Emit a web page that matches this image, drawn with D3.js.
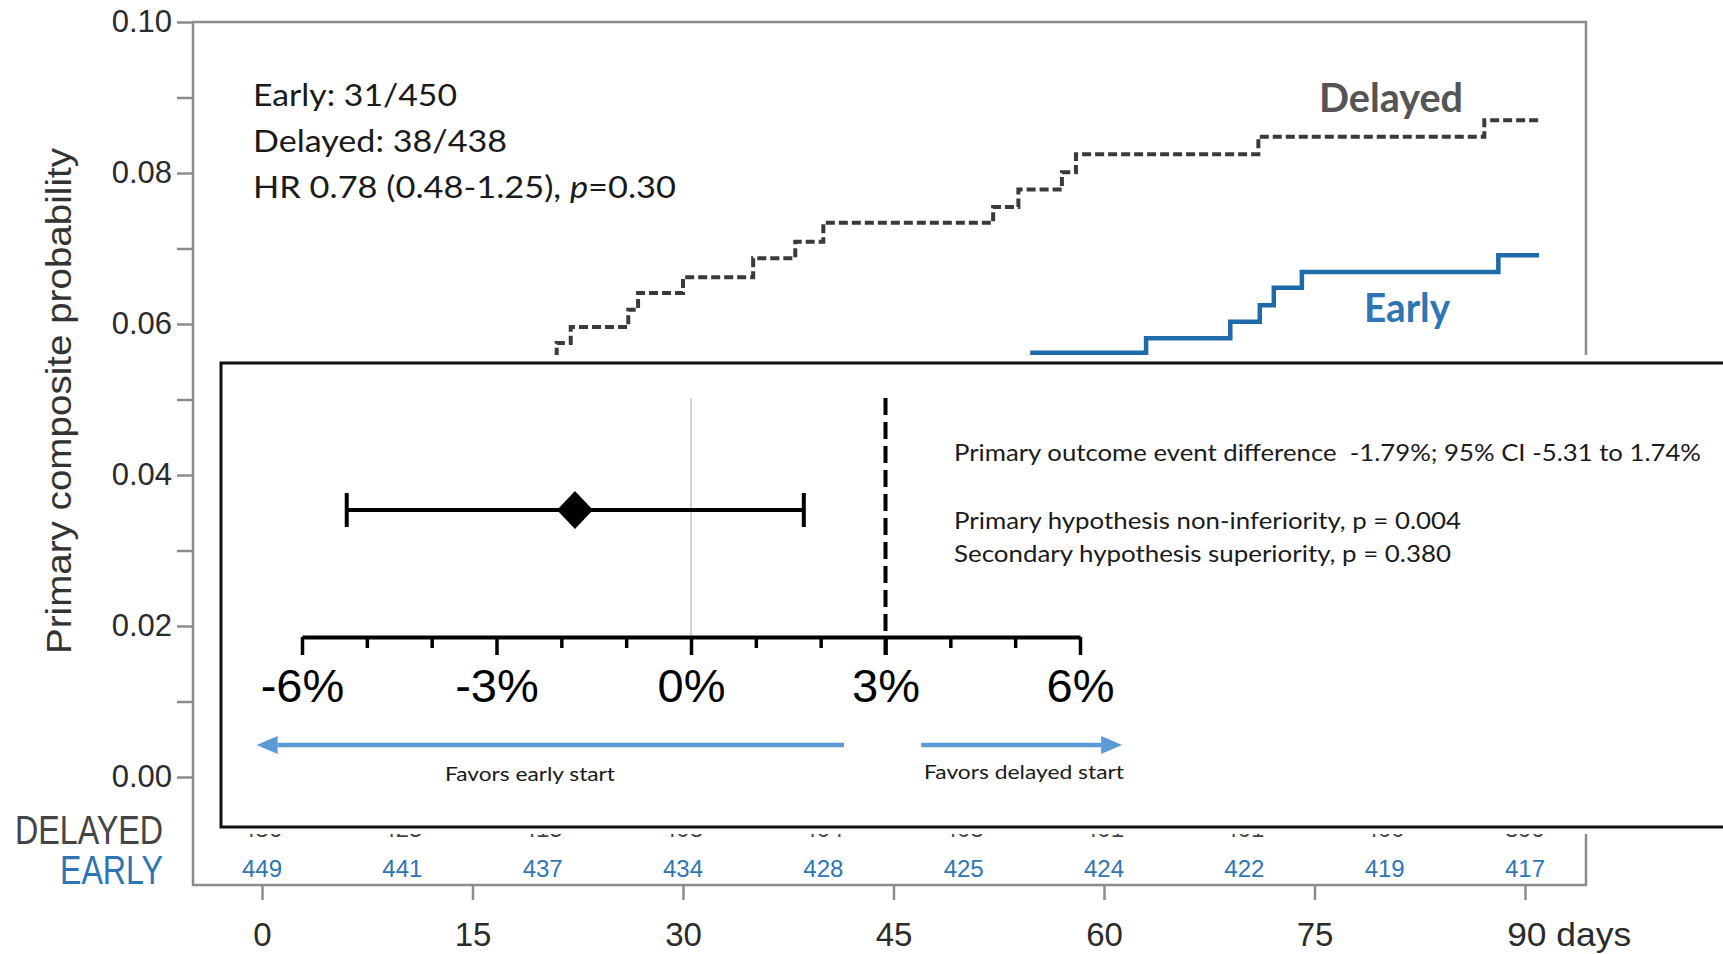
<!DOCTYPE html>
<html>
<head>
<meta charset="utf-8">
<script src="https://cdn.jsdelivr.net/npm/d3@7"></script>
<style>
  html, body { margin: 0; padding: 0; background: #fff; }
  svg { display: block; }
  .pre { white-space: pre; }
</style>
</head>
<body>
<svg id="chart" width="1723" height="954"></svg>
<script>
// ---- Kaplan–Meier cumulative incidence of the primary composite outcome ----
// Each entry: [day, cumulative probability] — the curve steps after each day.
const delayedSteps = [
  [0, 0], [0.2, 0.0046], [0.8, 0.0068], [1.3, 0.0091], [2, 0.0114], [2.6, 0.0137],
  [3.4, 0.0160], [4.2, 0.0183], [5, 0.0206], [6, 0.0229], [7.1, 0.0252], [8.3, 0.0275],
  [9.5, 0.0297], [10.6, 0.0320], [11.8, 0.0343], [12.9, 0.0366], [14, 0.0389],
  [15.2, 0.0412], [16.1, 0.0435], [17, 0.0458], [18, 0.0481], [18.9, 0.0504],
  [19.7, 0.0527], [20.5, 0.0550], [21, 0.0575], [22, 0.0596], [26.1, 0.0619],
  [26.8, 0.0641], [30, 0.0662], [35, 0.0687], [38, 0.0709], [40, 0.0734],
  [52.1, 0.0755], [53.9, 0.0778], [57, 0.0801], [58, 0.0825], [71, 0.0848],
  [87.1, 0.0870], [91, 0.0870]
];
const earlySteps = [
  [0, 0], [0.3, 0.0022], [1, 0.0044], [1.5, 0.0067], [2, 0.0089], [3, 0.0111],
  [4.5, 0.0133], [6, 0.0156], [8, 0.0178], [11, 0.0200], [13, 0.0222], [16, 0.0244],
  [18.5, 0.0267], [22, 0.0289], [25, 0.0311], [28, 0.0333], [31, 0.0356],
  [32.5, 0.0378], [34, 0.0400], [36, 0.0422], [37.5, 0.0444], [39, 0.0467],
  [42, 0.0489], [45, 0.0511], [48.5, 0.0535], [54.9, 0.0562], [63, 0.0581],
  [69, 0.0603], [71.1, 0.0625], [72.1, 0.0648], [74.1, 0.0669], [88.1, 0.0691],
  [91, 0.0691]
];

// Axis ticks
const xTicks = [0, 15, 30, 45, 60, 75, 90];
const yTicks = [0, 0.01, 0.02, 0.03, 0.04, 0.05, 0.06, 0.07, 0.08, 0.09, 0.10];
const yLabelled = [0, 0.02, 0.04, 0.06, 0.08, 0.10];

// Numbers at risk
const riskDays = [0, 10, 20, 30, 40, 50, 60, 70, 80, 90];
const riskDelayed = [436, 425, 415, 408, 404, 403, 401, 401, 400, 399];
const riskEarly = [449, 441, 437, 434, 428, 425, 424, 422, 419, 417];

// Summary counts
const summaryLines = ["Early: 31/450", "Delayed: 38/438"];

// Event-rate difference (early minus delayed), percent
const diffEstimate = -1.79;
const diffLow = -5.31;
const diffHigh = 1.74;
const niMargin = 3;
const diffTicks = [-6, -5, -4, -3, -2, -1, 0, 1, 2, 3, 4, 5, 6];
const diffLabelled = [-6, -3, 0, 3, 6];
const favourEarlySpan = [2.36, -6.7];
const favourDelayedSpan = [3.55, 6.65];
const statLines = [
  "Primary outcome event difference  -1.79%; 95% CI -5.31 to 1.74%",
  "Primary hypothesis non-inferiority, p = 0.004",
  "Secondary hypothesis superiority, p = 0.380"
];

// ---- Colours & fonts ----
const frameGrey = "#8c8c8c";
const delayedColor = "#3a3a3a";
const earlyColor = "#1f6aa8";
const earlyText = "#2e75b6";
const arrowBlue = "#5b9bd5";
const arial = "'Liberation Sans', Arial, sans-serif";
const calibri = "Lato, 'Open Sans', sans-serif";

const svg = d3.select("#chart");

// ---- Main KM panel ----
const x = d3.scaleLinear().domain([0, 90]).range([262, 1525]);
const y = d3.scaleLinear().domain([0, 0.10]).range([777, 22]);

const frame = { left: 193, top: 22, right: 1586, bottom: 885 };

svg.append("rect")
  .attr("x", frame.left).attr("y", frame.top)
  .attr("width", frame.right - frame.left).attr("height", frame.bottom - frame.top)
  .attr("fill", "none").attr("stroke", frameGrey).attr("stroke-width", 2.5);

// y axis
const yAxis = svg.append("g")
  .attr("transform", `translate(${frame.left},0)`)
  .call(d3.axisLeft(y).tickValues(yTicks).tickSize(16).tickPadding(5)
    .tickFormat(d => yLabelled.some(v => Math.abs(v - d) < 1e-9) ? d.toFixed(2) : ""));
yAxis.select(".domain").remove();
yAxis.selectAll(".tick line").attr("stroke", frameGrey).attr("stroke-width", 2.5);
yAxis.selectAll(".tick text")
  .attr("font-family", arial).attr("font-size", 31).attr("fill", "#2b2b2b");

// x axis
const xAxis = svg.append("g")
  .attr("transform", `translate(0,${frame.bottom})`)
  .call(d3.axisBottom(x).tickValues(xTicks).tickSize(15).tickPadding(23)
    .tickFormat(d => d === 90 ? "90 days" : String(d)));
xAxis.select(".domain").remove();
xAxis.selectAll(".tick line").attr("stroke", frameGrey).attr("stroke-width", 2.5);
xAxis.selectAll(".tick text")
  .attr("font-family", arial).attr("font-size", 33).attr("fill", "#2b2b2b");
xAxis.selectAll(".tick").filter(d => d === 90).select("text")
  .attr("text-anchor", "start").attr("x", -0.556 * 33)
  .attr("textLength", 124).attr("lengthAdjust", "spacingAndGlyphs");

// y axis title
svg.append("text")
  .attr("transform", "translate(71,401) rotate(-90)")
  .attr("text-anchor", "middle")
  .attr("font-family", arial).attr("font-size", 35).attr("fill", "#333")
  .attr("textLength", 506).attr("lengthAdjust", "spacingAndGlyphs")
  .text("Primary composite probability");

// step curves
const step = d3.line().x(d => x(d[0])).y(d => y(d[1])).curve(d3.curveStepAfter);

svg.append("path").datum(delayedSteps)
  .attr("d", step).attr("fill", "none")
  .attr("stroke", delayedColor).attr("stroke-width", 4)
  .attr("stroke-dasharray", "9,4");

svg.append("path").datum(earlySteps)
  .attr("d", step).attr("fill", "none")
  .attr("stroke", earlyColor).attr("stroke-width", 4.5);

// curve labels
svg.append("text")
  .attr("x", 1319).attr("y", 112)
  .attr("font-family", calibri).attr("font-weight", 700).attr("font-size", 40)
  .attr("fill", "#555")
  .attr("textLength", 144).attr("lengthAdjust", "spacingAndGlyphs")
  .text("Delayed");
svg.append("text")
  .attr("x", 1364).attr("y", 322)
  .attr("font-family", calibri).attr("font-weight", 700).attr("font-size", 40)
  .attr("fill", earlyText)
  .attr("textLength", 86).attr("lengthAdjust", "spacingAndGlyphs")
  .text("Early");

// summary annotation
const summaryLengths = [204, 254];
summaryLines.forEach((t, i) => {
  svg.append("text")
    .attr("x", 253).attr("y", 106 + i * 46)
    .attr("font-family", calibri).attr("font-size", 31).attr("fill", "#1a1a1a")
    .attr("textLength", summaryLengths[i]).attr("lengthAdjust", "spacingAndGlyphs")
    .text(t);
});
const hr = svg.append("text")
  .attr("x", 253).attr("y", 198)
  .attr("font-family", calibri).attr("font-size", 31).attr("fill", "#1a1a1a")
  .attr("textLength", 423).attr("lengthAdjust", "spacingAndGlyphs");
hr.append("tspan").text("HR 0.78 (0.48-1.25), ");
hr.append("tspan").attr("font-style", "italic").text("p");
hr.append("tspan").text("=0.30");

// numbers at risk
svg.append("text")
  .attr("x", 15).attr("y", 844)
  .attr("font-family", arial).attr("font-size", 40).attr("fill", "#444")
  .attr("textLength", 148).attr("lengthAdjust", "spacingAndGlyphs")
  .text("DELAYED");
svg.append("text")
  .attr("x", 60).attr("y", 884)
  .attr("font-family", arial).attr("font-size", 40).attr("fill", earlyText)
  .attr("textLength", 103).attr("lengthAdjust", "spacingAndGlyphs")
  .text("EARLY");

svg.append("g").selectAll("text").data(riskDays).join("text")
  .attr("x", d => x(d)).attr("y", 837)
  .attr("text-anchor", "middle")
  .attr("font-family", arial).attr("font-size", 24).attr("fill", "#444")
  .text((d, i) => riskDelayed[i]);
svg.append("g").selectAll("text").data(riskDays).join("text")
  .attr("x", d => x(d)).attr("y", 877)
  .attr("text-anchor", "middle")
  .attr("font-family", arial).attr("font-size", 24).attr("fill", earlyText)
  .text((d, i) => riskEarly[i]);

// ---- Inset: absolute difference with non-inferiority margin ----
svg.append("rect")
  .attr("x", 219).attr("y", 355).attr("width", 1723 - 219).attr("height", 834 - 355)
  .attr("fill", "#fff");
svg.append("rect")
  .attr("x", 221).attr("y", 363).attr("width", 1723 - 221 + 20).attr("height", 827 - 363)
  .attr("fill", "#fff").attr("stroke", "#111").attr("stroke-width", 3);

const fx = d3.scaleLinear().domain([-6, 6]).range([302, 1080]);
const axisY = 637;
const plotTop = 398;

// zero reference
svg.append("line")
  .attr("x1", fx(0)).attr("x2", fx(0)).attr("y1", plotTop).attr("y2", axisY)
  .attr("stroke", "#c4c4c4").attr("stroke-width", 1.5);

// difference axis
const fAxis = svg.append("g")
  .attr("transform", `translate(0,${axisY})`)
  .call(d3.axisBottom(fx).tickValues(diffTicks).tickSize(18).tickSizeOuter(0).tickPadding(14)
    .tickFormat(d => diffLabelled.includes(d) ? `${d}%` : ""));
fAxis.select(".domain").attr("stroke", "#000").attr("stroke-width", 4);
fAxis.selectAll(".tick line").attr("stroke", "#000").attr("stroke-width", 3.5)
  .attr("y2", d => diffLabelled.includes(d) ? 18 : 11);
fAxis.selectAll(".tick text")
  .attr("font-family", arial).attr("font-size", 47).attr("fill", "#000");

// non-inferiority margin
svg.append("line")
  .attr("x1", fx(niMargin)).attr("x2", fx(niMargin))
  .attr("y1", plotTop).attr("y2", axisY + 18)
  .attr("stroke", "#000").attr("stroke-width", 4)
  .attr("stroke-dasharray", "17,7");

// confidence interval and point estimate
const ciY = 510;
svg.append("line")
  .attr("x1", fx(diffLow)).attr("x2", fx(diffHigh)).attr("y1", ciY).attr("y2", ciY)
  .attr("stroke", "#000").attr("stroke-width", 4);
[diffLow, diffHigh].forEach(v => {
  svg.append("line")
    .attr("x1", fx(v)).attr("x2", fx(v)).attr("y1", ciY - 17).attr("y2", ciY + 17)
    .attr("stroke", "#000").attr("stroke-width", 4);
});
const cx = fx(diffEstimate);
svg.append("path")
  .attr("d", `M${cx},${ciY - 19}L${cx + 18},${ciY}L${cx},${ciY + 19}L${cx - 18},${ciY}Z`)
  .attr("fill", "#000");

// direction arrows
function arrow(span) {
  const x0 = fx(span[0]), x1 = fx(span[1]);
  const dir = Math.sign(x1 - x0);
  const ay = 745, headLen = 21, headHalf = 9;
  svg.append("line")
    .attr("x1", x0).attr("x2", x1 - dir * headLen).attr("y1", ay).attr("y2", ay)
    .attr("stroke", arrowBlue).attr("stroke-width", 4.5);
  svg.append("path")
    .attr("d", `M${x1},${ay}L${x1 - dir * headLen},${ay - headHalf}L${x1 - dir * headLen},${ay + headHalf}Z`)
    .attr("fill", arrowBlue);
}
arrow(favourEarlySpan);
arrow(favourDelayedSpan);

svg.append("text")
  .attr("x", 530).attr("y", 781).attr("text-anchor", "middle")
  .attr("font-family", calibri).attr("font-size", 19.5).attr("fill", "#1a1a1a")
  .attr("textLength", 170).attr("lengthAdjust", "spacingAndGlyphs")
  .text("Favors early start");
svg.append("text")
  .attr("x", 1024).attr("y", 779).attr("text-anchor", "middle")
  .attr("font-family", calibri).attr("font-size", 19.5).attr("fill", "#1a1a1a")
  .attr("textLength", 200).attr("lengthAdjust", "spacingAndGlyphs")
  .text("Favors delayed start");

// statistics
const statBaselines = [461, 529, 562];
const statLengths = [747, 507, 497];
statLines.forEach((t, i) => {
  svg.append("text")
    .attr("class", "pre")
    .attr("x", 954).attr("y", statBaselines[i])
    .attr("font-family", calibri).attr("font-size", 24).attr("fill", "#1a1a1a")
    .attr("textLength", statLengths[i]).attr("lengthAdjust", "spacingAndGlyphs")
    .text(t);
});
</script>
</body>
</html>
